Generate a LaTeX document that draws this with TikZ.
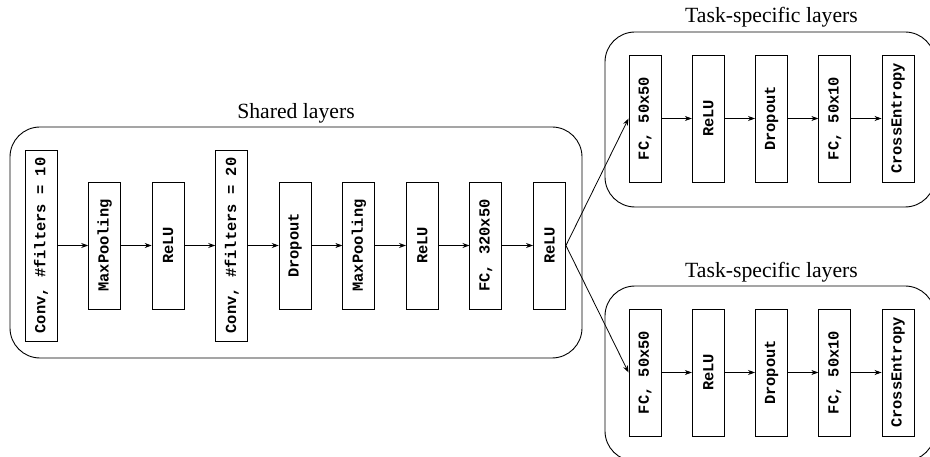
\documentclass[tikz,border=0pt]{standalone}
\usepackage{fontspec}
\setmainfont{Liberation Serif}
\setmonofont{Liberation Mono}
\usetikzlibrary{arrows.meta}
\begin{document}
\begin{tikzpicture}[x=1pt,y=-1pt,
  layer/.style={draw, line width=0.9pt, rotate=90, inner sep=0pt, minimum height=32pt,
    font=\ttfamily\bfseries\fontsize{15.4}{16}\selectfont},
  small/.style={layer, minimum width=127pt},
  tall/.style={layer, minimum width=191pt},
  group/.style={draw, line width=0.9pt, rounded corners=30pt},
  title/.style={font=\fontsize{21.7}{24}\selectfont, inner sep=0pt},
  conn/.style={line width=0.8pt, -{Stealth[length=7pt,width=5pt]}}]
\useasboundingbox (0,0) rectangle (930,457);
\clip (0,0) rectangle (930,457);
% group boxes
\draw[group] (10,127) rectangle (582,358);
\draw[group] (605,32) rectangle (935,207);
\draw[group] (605,286) rectangle (935,461);
\node[title] (tshared) at (296,113) {Shared layers};
\node[title] (ttop) at (771.5,17) {Task-specific layers};
\node[title] (tbot) at (771.5,272) {Task-specific layers};
% shared layers
\node[tall]  (s1) at (41,245.5)    {Conv, \#filters = 10};
\node[small] (s2) at (104.6,245.5) {MaxPooling};
\node[small] (s3) at (168.1,245.5) {ReLU};
\node[tall]  (s4) at (231.7,245.5) {Conv, \#filters = 20};
\node[small] (s5) at (295.2,245.5) {Dropout};
\node[small] (s6) at (358.8,245.5) {MaxPooling};
\node[small] (s7) at (422.4,245.5) {ReLU};
\node[small] (s8) at (485.9,245.5) {FC, 320x50};
\node[small] (s9) at (549.5,245.5) {ReLU};
% top task
\node[small] (a1) at (645,118.5)   {FC, 50x50};
\node[small] (a2) at (708.3,118.5) {ReLU};
\node[small] (a3) at (771.5,118.5) {Dropout};
\node[small] (a4) at (834.8,118.5) {FC, 50x10};
\node[small] (a5) at (898,118.5)   {CrossEntropy};
% bottom task
\node[small] (b1) at (645,372.5)   {FC, 50x50};
\node[small] (b2) at (708.3,372.5) {ReLU};
\node[small] (b3) at (771.5,372.5) {Dropout};
\node[small] (b4) at (834.8,372.5) {FC, 50x10};
\node[small] (b5) at (898,372.5)   {CrossEntropy};
% connectors
\foreach \i/\j in {s1/s2,s2/s3,s3/s4,s4/s5,s5/s6,s6/s7,s7/s8,s8/s9,
                   a1/a2,a2/a3,a3/a4,a4/a5,b1/b2,b2/b3,b3/b4,b4/b5}
  \draw[conn] (\i.south) -- (\j.north);
\draw[conn] (s9.south) -- (a1.north);
\draw[conn] (s9.south) -- (b1.north);
\end{tikzpicture}
\end{document}
